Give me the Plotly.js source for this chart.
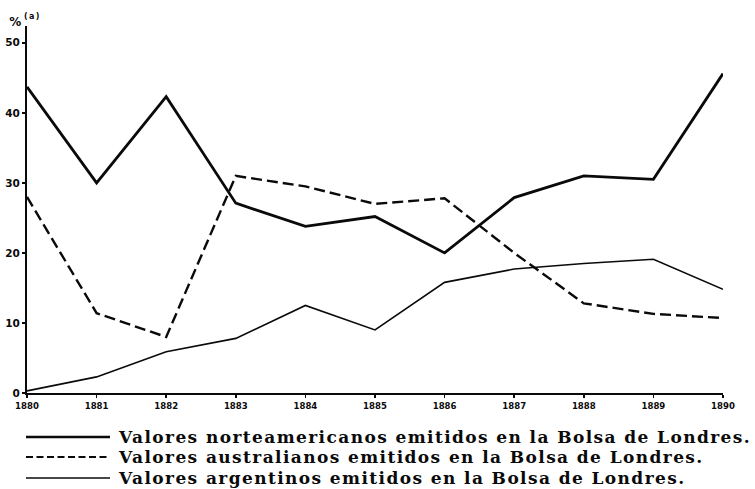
<!DOCTYPE html>
<html>
<head>
<meta charset="utf-8">
<script src="https://cdn.plot.ly/plotly-3.0.1.min.js"></script>
<style>
  html, body { margin: 0; padding: 0; background: #fff; }
  #chart { width: 755px; height: 489px; }
  #chart .annotation-text { letter-spacing: 1.4px; }
</style>
</head>
<body>
<div id="chart"></div>
<script>
const years = [1880, 1881, 1882, 1883, 1884, 1885, 1886, 1887, 1888, 1889, 1890];
const tickLabels = ["1880", "1881", "1882", "1883", "1884", "1885", "1886", "1887", "1888", "1889", "1890"];
const norteamericanos = [43.7, 30.0, 42.3, 27.1, 23.8, 25.2, 20.0, 27.9, 31.0, 30.5, 45.6];
const australianos = [28.0, 11.4, 8.0, 31.0, 29.5, 27.0, 27.8, 20.0, 12.8, 11.3, 10.7];
const argentinos = [0.3, 2.3, 5.9, 7.8, 12.5, 9.0, 15.8, 17.7, 18.5, 19.1, 14.8];
const yTicks = [0, 10, 20, 30, 40, 50];
const seriesNames = [
  "Valores norteamericanos emitidos en la Bolsa de Londres.",
  "Valores australianos emitidos en la Bolsa de Londres.",
  "Valores argentinos emitidos en la Bolsa de Londres."
];

const INK = "#0a0a0a";
const traces = [
  { x: years, y: norteamericanos, name: seriesNames[0], mode: "lines",
    line: { color: INK, width: 2.8 } },
  { x: years, y: australianos, name: seriesNames[1], mode: "lines",
    line: { color: INK, width: 2.4, dash: "11px,5px" } },
  { x: years, y: argentinos, name: seriesNames[2], mode: "lines",
    line: { color: INK, width: 1.6 } }
];

// pixel helpers for placing decorations (plot area: left 27, width 696, bottom 393, height 367)
const L = 27, W = 696, B = 393, H = 367;
const px = v => (v - L) / W;
const py = v => (B - v) / H;

const legendRows = [437, 457, 478];
const legendStyles = [
  { color: INK, width: 2.6 },
  { color: INK, width: 2.2, dash: "7px,3.5px" },
  { color: INK, width: 1.6 }
];

const shapes = legendRows.map((r, i) => ({
  type: "line", xref: "paper", yref: "paper",
  x0: px(26), x1: px(110), y0: py(r), y1: py(r),
  line: legendStyles[i]
}));

const annotations = legendRows.map((r, i) => ({
  xref: "paper", yref: "paper", x: px(116), y: py(r),
  xanchor: "left", yanchor: "middle", showarrow: false,
  width: 636, align: "left", borderpad: 1,
  text: seriesNames[i],
  font: { family: "DejaVu Serif", size: 17, color: INK, weight: "bold" }
}));
annotations.push({
  xref: "paper", yref: "paper", x: px(16), y: py(22),
  xanchor: "center", yanchor: "middle", showarrow: false, text: "%",
  font: { family: "DejaVu Sans", size: 12, color: INK, weight: "bold" }
});
annotations.push({
  xref: "paper", yref: "paper", x: px(32), y: py(16),
  xanchor: "center", yanchor: "middle", showarrow: false, text: "(a)",
  font: { family: "DejaVu Sans", size: 8, color: INK, weight: "bold" }
});

const layout = {
  width: 755, height: 489,
  margin: { l: 27, r: 32, t: 26, b: 96 },
  paper_bgcolor: "#fff", plot_bgcolor: "#fff",
  showlegend: false,
  xaxis: {
    range: [1880, 1890], tickvals: years, ticktext: tickLabels,
    showgrid: false, zeroline: false, showline: true, linecolor: INK, linewidth: 2,
    ticks: "outside", ticklen: 3, tickwidth: 1.5, tickcolor: INK,
    tickfont: { family: "DejaVu Sans Condensed", size: 9.5, color: INK, weight: "bold" }
  },
  yaxis: {
    range: [0, 52.4], tickvals: yTicks,
    showgrid: false, zeroline: false, showline: true, linecolor: INK, linewidth: 2,
    ticks: "outside", ticklen: 3, tickwidth: 1.5, tickcolor: INK,
    tickfont: { family: "DejaVu Sans", size: 10.5, color: INK, weight: "bold" }
  },
  shapes: shapes,
  annotations: annotations
};

Plotly.newPlot("chart", traces, layout, { displayModeBar: false, staticPlot: true });
</script>
</body>
</html>
